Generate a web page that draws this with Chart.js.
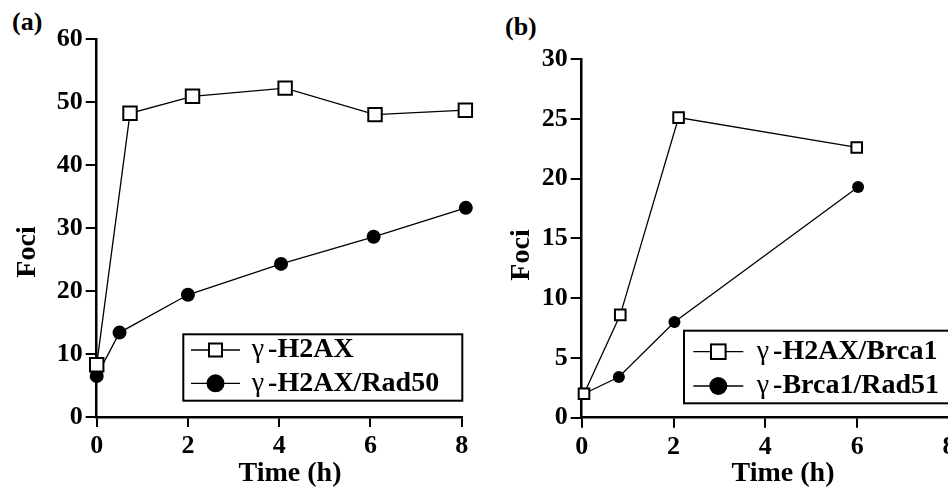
<!DOCTYPE html>
<html>
<head>
<meta charset="utf-8">
<script src="https://cdn.jsdelivr.net/npm/chart.js@4"></script>
<style>
    html, body { margin: 0; padding: 0; background: #fff; overflow: hidden; width: 948px; height: 488px; }
    #wrapA { position: absolute; left: 0; top: 0; }
    #wrapB { position: absolute; left: 474px; top: 0; }
    .tag { position: absolute; font: bold 26px "Liberation Serif"; line-height: 1; }
</style>
</head>
<body>
<div class="tag" style="left:12px;top:9px">(a)</div>
<div class="tag" style="left:505px;top:14px">(b)</div>
<div id="wrapA"><canvas id="chartA" width="474" height="488"></canvas></div>
<div id="wrapB"><canvas id="chartB" width="490" height="488"></canvas></div>
<script>
// panel (a)
const namesA = ['γ-H2AX', 'γ-H2AX/Rad50'];
const timeA_H2AX = [0, 0.73, 2.1, 4.13, 6.1, 8.08];
const fociA_H2AX = [8.3, 48.2, 50.9, 52.2, 48.0, 48.7];
const timeA_Rad50 = [0, 0.5, 2.0, 4.04, 6.07, 8.09];
const fociA_Rad50 = [6.5, 13.4, 19.4, 24.3, 28.6, 33.2];
const yTicksA = [0, 10, 20, 30, 40, 50, 60];

// panel (b)
const namesB = ['γ-H2AX/Brca1', 'γ-Brca1/Rad51'];
const timeB_Brca1 = [0.05, 0.84, 2.11, 5.99];
const fociB_Brca1 = [2.0, 8.6, 25.1, 22.6];
const timeB_Rad51 = [0.05, 0.81, 2.02, 6.02];
const fociB_Rad51 = [2.0, 3.4, 8.0, 19.3];
const yTicksB = [0, 5, 10, 15, 20, 25, 30];

const xTicks = [0, 2, 4, 6, 8];
const xTitle = 'Time (h)';
const yTitle = 'Foci';

const serif = '"Liberation Serif", "Times New Roman", serif';

function pts(xs, ys) {
    return xs.map((x, i) => ({ x: x, y: ys[i] }));
}

// boxed legend with line + marker, like the original figure
const boxLegend = {
    id: 'boxLegend',
    afterDraw(chart, args, o) {
        const ctx = chart.ctx;
        ctx.save();
        ctx.fillStyle = '#fff';
        ctx.strokeStyle = '#000';
        ctx.lineWidth = 2;
        ctx.fillRect(o.x, o.y, o.w, o.h);
        ctx.strokeRect(o.x, o.y, o.w, o.h);
        chart.data.datasets.forEach((ds, i) => {
            const y = o.rows[i];
            ctx.lineWidth = 1.3;
            ctx.strokeStyle = '#000';
            ctx.beginPath();
            ctx.moveTo(o.x0, y);
            ctx.lineTo(o.x1, y);
            ctx.stroke();
            const cx = (o.x0 + o.x1) / 2;
            if (ds.pointStyle === 'rect') {
                ctx.fillStyle = '#fff';
                ctx.lineWidth = 2;
                ctx.fillRect(cx - o.sq, y - o.sq, o.sq * 2, o.sq * 2);
                ctx.strokeRect(cx - o.sq, y - o.sq, o.sq * 2, o.sq * 2);
            } else {
                ctx.fillStyle = '#000';
                ctx.beginPath();
                ctx.arc(cx, y, o.dot, 0, Math.PI * 2);
                ctx.fill();
            }
            ctx.fillStyle = '#000';
            ctx.textBaseline = 'middle';
            ctx.textAlign = 'left';
            ctx.font = '28px ' + serif;
            ctx.fillText(ds.label[0], o.tx, y);
            const w = ctx.measureText(ds.label[0]).width;
            ctx.font = 'bold 28px ' + serif;
            ctx.fillText(ds.label.slice(1), o.tx + w + 4, y);
        });
        ctx.restore();
    }
};

// axis titles sit a bit off-centre in the original, so place them here
const axisTitles = {
    id: 'axisTitles',
    afterDraw(chart, args, o) {
        const ctx = chart.ctx;
        ctx.save();
        ctx.fillStyle = '#000';
        ctx.font = 'bold 28px ' + serif;
        ctx.textAlign = 'center';
        ctx.textBaseline = 'middle';
        ctx.fillText(xTitle, o.xt[0], o.xt[1]);
        ctx.translate(o.yt[0], o.yt[1]);
        ctx.rotate(-Math.PI / 2);
        ctx.fillText(yTitle, 0, 0);
        ctx.restore();
    }
};

function makeChart(id, cfg) {
    const tickFont = { family: serif, size: 26, weight: 'bold' };
    return new Chart(document.getElementById(id).getContext('2d'), {
        type: 'line',
        data: {
            datasets: [{
                label: cfg.names[0],
                data: pts(cfg.x0, cfg.y0),
                borderColor: '#000',
                borderWidth: 1.3,
                pointStyle: 'rect',
                pointRadius: cfg.sqR,
                pointBackgroundColor: '#fff',
                pointBorderColor: '#000',
                pointBorderWidth: 2,
                clip: false
            }, {
                label: cfg.names[1],
                data: pts(cfg.x1, cfg.y1),
                borderColor: '#000',
                borderWidth: 1.3,
                pointStyle: 'circle',
                pointRadius: cfg.dotR,
                pointBackgroundColor: '#000',
                pointBorderColor: '#000',
                pointBorderWidth: 0,
                clip: false
            }]
        },
        options: {
            responsive: false,
            animation: false,
            layout: { padding: { left: 0, top: cfg.top, right: cfg.right, bottom: 0 } },
            plugins: {
                legend: { display: false },
                tooltip: { enabled: false },
                boxLegend: cfg.legend,
                axisTitles: cfg.titles
            },
            scales: {
                x: {
                    type: 'linear',
                    min: 0,
                    max: 8,
                    afterFit: s => { s.height = cfg.xH; },
                    afterBuildTicks: s => { s.ticks = xTicks.map(v => ({ value: v })); },
                    border: { color: '#000', width: 2.5 },
                    grid: { drawOnChartArea: false, drawTicks: true, tickLength: 10, color: '#000', lineWidth: 2 },
                    ticks: { color: '#000', font: tickFont, padding: 4, maxRotation: 0 }
                },
                y: {
                    min: 0,
                    max: cfg.yTicks[cfg.yTicks.length - 1],
                    afterFit: s => { s.width = cfg.yW; },
                    afterBuildTicks: s => { s.ticks = cfg.yTicks.map(v => ({ value: v })); },
                    border: { color: '#000', width: 2.5 },
                    grid: { drawOnChartArea: false, drawTicks: true, tickLength: 11, color: '#000', lineWidth: 2 },
                    ticks: { color: '#000', font: tickFont, padding: 3 }
                }
            }
        },
        plugins: [boxLegend, axisTitles]
    });
}

makeChart('chartA', {
    names: namesA,
    x0: timeA_H2AX, y0: fociA_H2AX,
    x1: timeA_Rad50, y1: fociA_Rad50,
    yTicks: yTicksA,
    sqR: 9.5, dotR: 7,
    top: 39, right: 12.3, xH: 71, yW: 96.7,
    titles: { xt: [290, 474], yt: [28, 252] },
    legend: { x: 183.3, y: 334.3, w: 279, h: 66.4, rows: [350, 383.3], x0: 191, x1: 240, sq: 6.5, dot: 9, tx: 251.7 }
});

makeChart('chartB', {
    names: namesB,
    x0: timeB_Brca1, y0: fociB_Brca1,
    x1: timeB_Rad51, y1: fociB_Rad51,
    yTicks: yTicksB,
    sqR: 7.5, dotR: 6,
    top: 59, right: 15, xH: 70.3, yW: 107.7,
    titles: { xt: [309, 474], yt: [48, 255] },
    legend: { x: 210, y: 330.7, w: 300, h: 72.6, rows: [351.7, 386], x0: 219.3, x1: 269.3, sq: 7.3, dot: 9, tx: 282.7 }
});
</script>
</body>
</html>
